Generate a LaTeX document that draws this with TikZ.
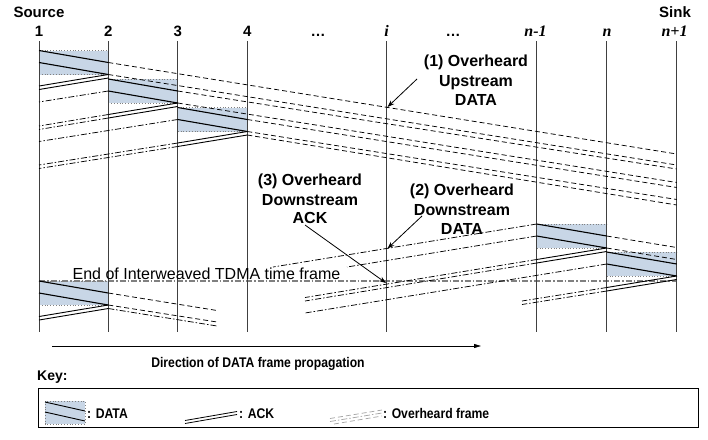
\documentclass[tikz,border=0pt]{standalone}
\usepackage{fontspec}
\setmainfont{Liberation Sans}
\newfontfamily\narrowsf[FakeStretch=0.87]{Liberation Sans}
\newfontfamily\serifit{Liberation Serif}
\usetikzlibrary{arrows.meta}
\definecolor{boxblue}{RGB}{200,214,230}
\newcommand\dbx[3]{%
  \fill[boxblue] (#1,#3) rectangle (#2,#3+24);
  \draw[dedge] (#1,#3) -- (#2,#3);
  \draw[dedge] (#1,#3+24) -- (#2,#3+24);
}
\newcommand\dln[3]{%
  \draw[dataln] (#1,#3) -- (#2,#3+12);
  \draw[dataln] (#1,#3+12) -- (#2,#3+24);
  \draw[ackln] (#2,#3+24) -- (#1,#3+35.5);
  \draw[ackln] (#2,#3+27.5) -- (#1,#3+39);
}
\begin{document}
\begin{tikzpicture}[x=1pt,y=-1pt,
  vline/.style={draw=black!75, line width=1pt},
  dataln/.style={draw=black, line width=1.1pt},
  ackln/.style={draw=black, line width=0.9pt},
  ovd/.style={draw=black, line width=0.75pt, dash pattern=on 5pt off 3pt},
  ovdd/.style={draw=black, line width=0.75pt, dash pattern=on 6pt off 2pt on 1.5pt off 2pt},
  dedge/.style={draw=gray, line width=0.8pt, dotted},
  lbl/.style={font=\fontsize{16}{19}\selectfont\bfseries, inner sep=0pt, anchor=base},
  hdr/.style={font=\fontsize{15}{18}\selectfont\bfseries, inner sep=0pt, anchor=base},
  ital/.style={font=\serifit\fontsize{16}{19}\selectfont\bfseries\itshape, inner sep=0pt, anchor=base},
  keyt/.style={font=\narrowsf\fontsize{14}{17}\selectfont\bfseries, inner sep=0pt, anchor=base},
  ptr/.style={draw=black, line width=0.8pt, -{Stealth[length=7pt,width=5pt]}}
]
\useasboundingbox (0,0) rectangle (708,439);

% data boxes
\dbx{39}{108.3}{50.5}
\dbx{108.3}{177.7}{79}
\dbx{177.7}{247.3}{107.5}
\dbx{39}{108.3}{281}
\dbx{536.7}{606.7}{224}
\dbx{606.7}{676.7}{252}

% end of frame line
\draw[draw=gray, line width=1.1pt, dash pattern=on 6pt off 2pt on 1.5pt off 2pt] (39,281) -- (676.7,281);

% node lines
\foreach \nm/\xx in {1/39, 2/108.3, 3/177.7, 4/247.3, i/386.5, m/536.7, n/606.7, e/676.7} {
  \coordinate (top\nm) at (\xx,41);
  \coordinate (bot\nm) at (\xx,332);
  \draw[vline] (top\nm) -- (bot\nm);
}

% header labels
\node[hdr] (src) at (39,17) {Source};
\node[hdr] (snk) at (675,17) {Sink};
\node[hdr] (h1) at (39,36) {1};
\node[hdr] (h2) at (108.3,36) {2};
\node[hdr] (h3) at (177.7,36) {3};
\node[hdr] (h4) at (247.3,36) {4};
\node[hdr] (hd1) at (318,36) {\dots};
\node[ital] (hi) at (386.5,36) {i};
\node[hdr] (hd2) at (453,36) {\dots};
\node[ital] (hm) at (535.5,36) {n-1};
\node[ital] (hn) at (607,36) {n};
\node[ital] (he) at (674.5,36) {n+1};

% data and ack
\dln{39}{108.3}{50.5}
\dln{108.3}{177.7}{79}
\dln{177.7}{247.3}{107.5}
\dln{39}{108.3}{281}
\dln{536.7}{606.7}{224}
\dln{606.7}{676.7}{252}

% overheard upstream data (dashed, to the right)
\draw[ovd] (108.3,62.5) -- (676.7,154);
\draw[ovd] (108.3,74.5) -- (676.7,165);
\draw[ovd] (177.7,91) -- (676.7,169);
\draw[ovd] (177.7,103) -- (676.7,182.5);
\draw[ovd] (247.3,119.5) -- (676.7,187.5);
\draw[ovd] (247.3,131.5) -- (676.7,199.5);
\draw[ovd] (247.3,135) -- (676.7,205);

% overheard to the left (dash-dot)
\draw[ovdd] (108.3,91) -- (39,102);
\draw[ovdd] (108.3,114.5) -- (39,126);
\draw[ovdd] (108.3,118) -- (39,129.5);
\draw[ovdd] (177.7,119.5) -- (39,141.5);
\draw[ovdd] (177.7,143) -- (39,165);
\draw[ovdd] (177.7,146.5) -- (39,168.5);

% bottom left continuations
\draw[ovd] (108.3,293) -- (217,310.5);
\draw[ovd] (108.3,305) -- (217,322);
\draw[ovdd] (108.3,308.5) -- (217,326);

% bottom right
\draw[ovd] (606.7,236) -- (676.7,247.5);
\draw[ovd] (606.7,248) -- (676.7,259.5);
\draw[ovdd] (536.7,224) -- (273,267);
\draw[ovdd] (536.7,236) -- (347,267);
\draw[ovdd] (536.7,259.5) -- (305,297.5);
\draw[ovdd] (536.7,263) -- (305,301);
\draw[ovdd] (606.7,264) -- (305,313);
\draw[ovdd] (606.7,287.5) -- (522,301);
\draw[ovdd] (606.7,291) -- (522,304.5);

% frame label
\node[font=\fontsize{16}{19}\selectfont, inner sep=0pt, anchor=base] (tf) at (206.5,279) {End of Interweaved TDMA time frame};

% callouts
\node[lbl] (l1a) at (476,66) {(1) Overheard};
\node[lbl] (l1b) at (476,86) {Upstream};
\node[lbl] (l1c) at (476,105) {DATA};
\node[lbl] (l2a) at (462,195) {(2) Overheard};
\node[lbl] (l2b) at (462,215) {Downstream};
\node[lbl] (l2c) at (462,234) {DATA};
\node[lbl] (l3a) at (310,185) {(3) Overheard};
\node[lbl] (l3b) at (310,205) {Downstream};
\node[lbl] (l3c) at (310,223.5) {ACK};
\coordinate (a1s) at (417,79);
\coordinate (a1e) at (387.5,107);
\coordinate (a2s) at (422,216);
\coordinate (a2e) at (387.5,248.5);
\coordinate (a3s) at (305,225);
\coordinate (a3e) at (386,283);
\draw[ptr] (a1s) -- (a1e);
\draw[ptr] (a2s) -- (a2e);
\draw[ptr] (a3s) -- (a3e);

% direction arrow
\coordinate (dirA) at (52,346);
\coordinate (dirB) at (481,346);
\draw[line width=0.8pt, -{Triangle[length=7pt,width=4pt]}] (dirA) -- (dirB);
\node[keyt] (dirt) at (258,367) {Direction of DATA frame propagation};

% key
\node[font=\fontsize{14}{17}\selectfont\bfseries, inner sep=0pt, anchor=base west] (keyl) at (37,380) {Key:};
\node[draw=black, line width=0.8pt, inner sep=0pt, minimum width=660pt, minimum height=39pt, anchor=north west] (keybox) at (38,388) {};
\fill[boxblue] (45,401) rectangle (85,424);
\draw[dedge] (45,401) rectangle (85,424);
\draw[dataln, line width=0.9pt] (45,402) -- (85,411);
\draw[dataln, line width=0.9pt] (45,412) -- (85,421);
\node[keyt, anchor=base west] (kd) at (87,418.5) {: DATA};
\draw[ackln, line width=0.8pt] (185,420.5) -- (237,411.5);
\draw[ackln, line width=0.8pt] (185,423.5) -- (237,414.5);
\node[keyt, anchor=base west] (ka) at (239,418.5) {: ACK};
\draw[ovd, draw=gray!70] (330,418.5) -- (382,410);
\draw[ovdd, draw=gray!70] (330,421.5) -- (382,413);
\draw[ovd, draw=gray!70] (334,424) -- (382,416);
\node[keyt, anchor=base west] (ko) at (383,418.5) {: Overheard frame};
\end{tikzpicture}
\end{document}
